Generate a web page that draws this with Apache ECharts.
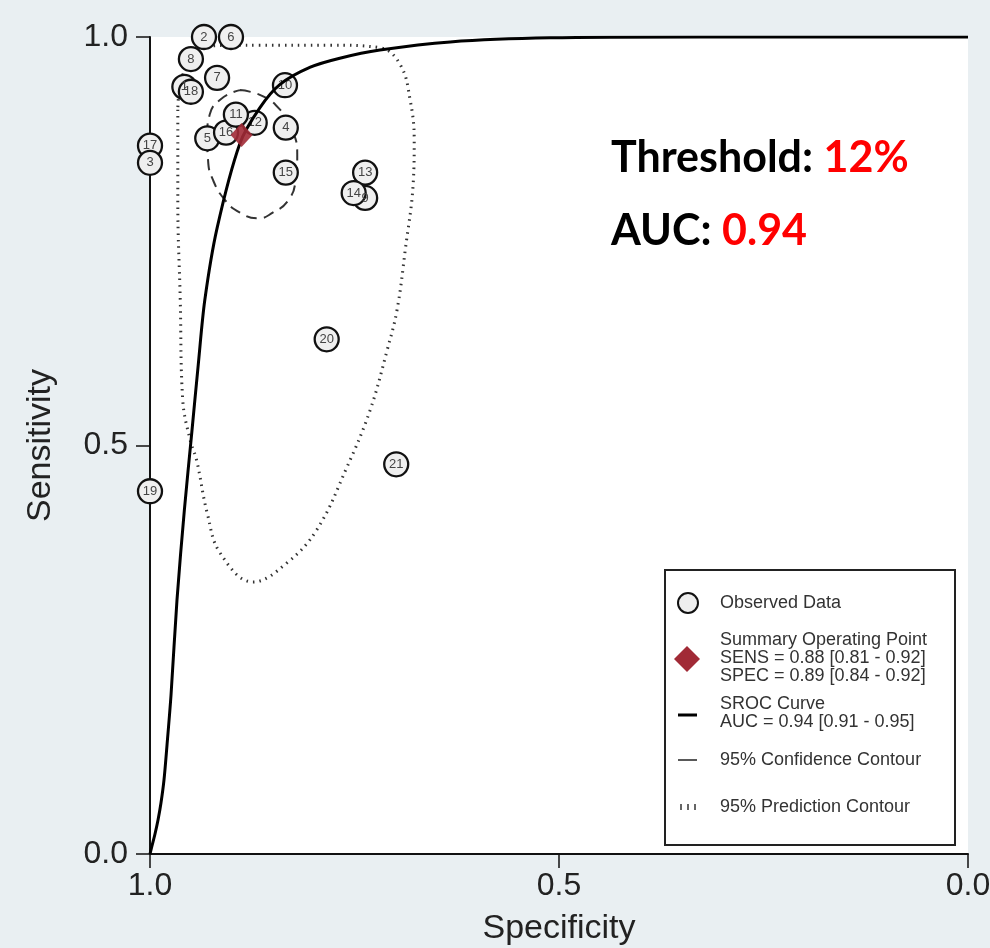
<!DOCTYPE html>
<html>
<head>
<meta charset="utf-8">
<script src="https://cdn.jsdelivr.net/npm/echarts@6/dist/echarts.min.js"></script>
<style>
html,body{margin:0;padding:0;background:#e9eff2;}
#c{width:990px;height:948px;}
</style>
</head>
<body>
<div id="c"></div>
<script>
// ---- Data ----
const studyLabels = ['2','6','8','7','1','18','10','5','16','12','11','4','17','3','15','13','9','14','20','21','19'];
const studySpec   = [0.934,0.901,0.950,0.918,0.958,0.950,0.835,0.930,0.907,0.872,0.895,0.834,1.000,1.000,0.834,0.737,0.737,0.751,0.784,0.699,1.000];
const studySens   = [1.000,1.000,0.973,0.950,0.939,0.933,0.941,0.876,0.883,0.895,0.905,0.889,0.867,0.846,0.834,0.834,0.803,0.809,0.630,0.477,0.444];

const summarySpec = [0.888];
const summarySens = [0.880];

const srocSpec = [1.000,0.9976,0.9939,0.9902,0.9866,0.9829,0.9792,0.9743,0.967,0.958,0.949,0.941,0.933,0.918,0.890,0.866,0.841,0.804,0.768,0.719,0.633,0.511,0.328,0.000];
const srocSens = [0.000,0.0098,0.0245,0.0416,0.0624,0.0906,0.1334,0.1946,0.311,0.421,0.515,0.599,0.678,0.766,0.870,0.913,0.942,0.963,0.974,0.984,0.994,0.999,1.000,1.000];

const confSpec = [0.890,0.863,0.841,0.826,0.820,0.822,0.831,0.850,0.868,0.890,0.908,0.923,0.929,0.930,0.927,0.912,0.890];
const confSens = [0.935,0.928,0.911,0.886,0.856,0.825,0.800,0.785,0.778,0.785,0.800,0.825,0.849,0.880,0.905,0.925,0.935];

const predSpec = [0.966,0.966,0.963,0.960,0.951,0.943,0.930,0.914,0.874,0.833,0.796,0.759,0.731,0.710,0.698,0.688,0.678,0.677,0.682,0.694,0.719,0.780,0.866,0.927,0.951,0.963,0.966];
const predSens = [0.911,0.800,0.678,0.556,0.507,0.482,0.417,0.368,0.333,0.356,0.397,0.474,0.543,0.617,0.666,0.739,0.825,0.874,0.923,0.966,0.987,0.990,0.990,0.989,0.972,0.941,0.911];

const axisTicks = [0, 0.5, 1];
const legendLines = ['Observed Data','Summary Operating Point','SENS = 0.88 [0.81 - 0.92]','SPEC = 0.89 [0.84 - 0.92]','SROC Curve','AUC = 0.94 [0.91 - 0.95]','95% Confidence Contour','95% Prediction Contour'];

// ---- Build ----
const zip = (a,b) => a.map((v,i)=>[v,b[i]]);
const chart = echarts.init(document.getElementById('c'), null, {renderer:'canvas'});
const FONT = '"Liberation Sans", Arial, sans-serif';
const BIG = 'Lato, "Open Sans", sans-serif';

const option = {
  backgroundColor: '#e9eff2',
  animation: false,
  grid: {left:150, right:22, top:37, bottom:94, show:true, backgroundColor:'#ffffff', borderWidth:0, outerBoundsMode:'none', containLabel:false},
  xAxis: {
    type:'value', min:0, max:1, interval:0.5, inverse:true,
    name:'Specificity', nameLocation:'middle', nameGap:58,
    nameTextStyle:{fontFamily:FONT, fontSize:34, color:'#222'},
    axisLine:{show:true, onZero:false, lineStyle:{color:'#111', width:2}},
    axisTick:{show:true, length:14, lineStyle:{color:'#111', width:1.5}},
    axisLabel:{fontFamily:FONT, fontSize:32, color:'#222', margin:16, formatter:v=>v.toFixed(1)},
    splitLine:{show:false}
  },
  yAxis: {
    type:'value', min:0, max:1, interval:0.5,
    name:'Sensitivity', nameLocation:'middle', nameGap:92, nameRotate:90,
    nameTextStyle:{fontFamily:FONT, fontSize:34, color:'#222'},
    axisLine:{show:true, onZero:false, lineStyle:{color:'#111', width:2}},
    axisTick:{show:true, length:14, lineStyle:{color:'#111', width:1.5}},
    axisLabel:{fontFamily:FONT, fontSize:32, color:'#222', margin:22, formatter:v=>v.toFixed(1)},
    splitLine:{show:false}
  },
  series: [
    {
      name:'95% Prediction Contour', type:'line', data:zip(predSpec,predSens), smooth:0.4,
      symbol:'none', z:2, lineStyle:{color:'#333', width:3, type:[1.5,5]}
    },
    {
      name:'95% Confidence Contour', type:'line', data:zip(confSpec,confSens), smooth:0.5,
      symbol:'none', z:3, lineStyle:{color:'#333', width:2, type:[11,7]}
    },
    {
      name:'Observed Data', type:'scatter', z:4,
      data: studyLabels.map((l,i)=>({name:l, value:[studySpec[i], studySens[i]]})),
      symbol:'circle', symbolSize:24,
      itemStyle:{color:'#efefef', borderColor:'#111', borderWidth:2.3, opacity:1},
      label:{show:true, position:'inside', formatter:p=>p.name, fontFamily:FONT, fontSize:13, color:'#444'}
    },
    {
      name:'SROC Curve', type:'line', data:zip(srocSpec,srocSens), smooth:0.3,
      symbol:'none', z:5, lineStyle:{color:'#000', width:3}
    },
    {
      name:'Summary Operating Point', type:'scatter', z:6,
      data: zip(summarySpec, summarySens),
      symbol:'diamond', symbolSize:[22,24],
      itemStyle:{color:'#a12a36', opacity:0.9}
    }
  ],
  graphic: [
    {type:'rect', z:100, shape:{x:665,y:570,width:290,height:275}, style:{fill:'#fff', stroke:'#222', lineWidth:2}},
    {type:'circle', z:101, shape:{cx:688,cy:603,r:10}, style:{fill:'#eee', stroke:'#111', lineWidth:2}},
    {type:'text', z:101, x:720, y:603, style:{text:legendLines[0], fontFamily:FONT, fontSize:18, fill:'#333', verticalAlign:'middle'}},
    {type:'polygon', z:101, shape:{points:[[687,646],[700,659],[687,672],[674,659]]}, style:{fill:'#a12a36'}},
    {type:'text', z:101, x:720, y:658, style:{text:legendLines[1]+'\n'+legendLines[2]+'\n'+legendLines[3], fontFamily:FONT, fontSize:18, lineHeight:18, fill:'#333', verticalAlign:'middle'}},
    {type:'line', z:101, shape:{x1:678,y1:715,x2:697,y2:715}, style:{stroke:'#000', lineWidth:3}},
    {type:'text', z:101, x:720, y:713, style:{text:legendLines[4]+'\n'+legendLines[5], fontFamily:FONT, fontSize:18, lineHeight:18, fill:'#333', verticalAlign:'middle'}},
    {type:'line', z:101, shape:{x1:678,y1:760,x2:697,y2:760}, style:{stroke:'#222', lineWidth:1.5}},
    {type:'text', z:101, x:720, y:760, style:{text:legendLines[6], fontFamily:FONT, fontSize:18, fill:'#333', verticalAlign:'middle'}},
    {type:'line', z:101, shape:{x1:681,y1:804,x2:681,y2:810}, style:{stroke:'#333', lineWidth:1.5}},
    {type:'line', z:101, shape:{x1:688,y1:804,x2:688,y2:810}, style:{stroke:'#333', lineWidth:1.5}},
    {type:'line', z:101, shape:{x1:695,y1:804,x2:695,y2:810}, style:{stroke:'#333', lineWidth:1.5}},
    {type:'text', z:101, x:720, y:807, style:{text:legendLines[7], fontFamily:FONT, fontSize:18, fill:'#333', verticalAlign:'middle'}},
    {type:'text', z:101, x:611, y:158, style:{
      text:'{a|Threshold: }{b|12%}', verticalAlign:'middle',
      rich:{a:{fontFamily:BIG, fontWeight:'bold', fontSize:43, fill:'#000', color:'#000'},
            b:{fontFamily:BIG, fontWeight:'bold', fontSize:43, fill:'#ff0000', color:'#ff0000'}}}},
    {type:'text', z:101, x:611, y:231, style:{
      text:'{a|AUC: }{b|0.94}', verticalAlign:'middle',
      rich:{a:{fontFamily:BIG, fontWeight:'bold', fontSize:43, fill:'#000', color:'#000'},
            b:{fontFamily:BIG, fontWeight:'bold', fontSize:43, fill:'#ff0000', color:'#ff0000'}}}}
  ]
};
chart.setOption(option);
</script>
</body>
</html>
